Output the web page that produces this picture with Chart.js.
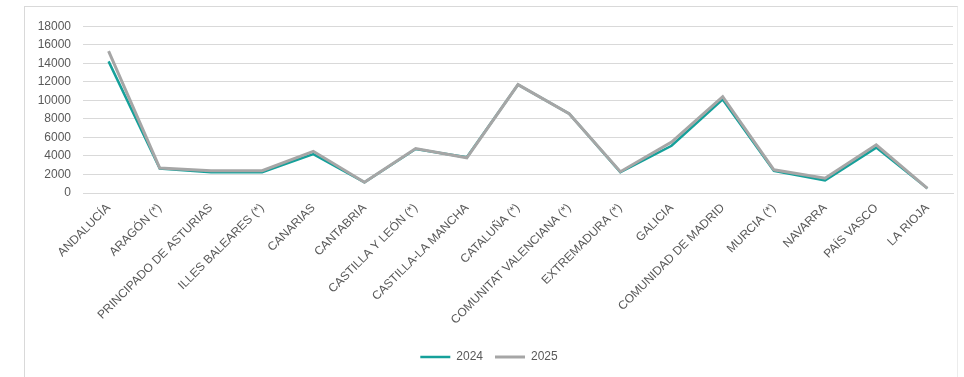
<!DOCTYPE html>
<html>
<head>
<meta charset="utf-8">
<script src="https://cdn.jsdelivr.net/npm/chart.js@4"></script>
<style>
  html, body { margin: 0; padding: 0; background: #fff; }
  .box {
    position: absolute; left: 24px; top: 6px;
    width: 932px; height: 372px;
    border-left: 1px solid #d9d9d9; border-top: 1px solid #d9d9d9; border-right: 1px solid #ececec;
  }
  canvas { display: block; }
</style>
</head>
<body>
<div class="box"><canvas id="lineChart" width="932" height="372"></canvas></div>
<script>
const regions = [
    'ANDALUCÍA', 'ARAGÓN (*)', 'PRINCIPADO DE ASTURIAS', 'ILLES BALEARES (*)', 'CANARIAS',
    'CANTABRIA', 'CASTILLA Y LEÓN (*)', 'CASTILLA-LA MANCHA', 'CATALUÑA (*)',
    'COMUNITAT VALENCIANA (*)', 'EXTREMADURA (*)', 'GALICIA', 'COMUNIDAD DE MADRID',
    'MURCIA (*)', 'NAVARRA', 'PAÍS VASCO', 'LA RIOJA'
];
const values2024 = [14200, 2650, 2250, 2250, 4200, 1150, 4750, 3850, 11700, 8550, 2250, 5100, 10100, 2400, 1350, 4900, 500];
const values2025 = [15300, 2700, 2400, 2400, 4500, 1150, 4800, 3800, 11700, 8550, 2300, 5500, 10400, 2500, 1600, 5200, 500];
const yTicks = [0, 2000, 4000, 6000, 8000, 10000, 12000, 14000, 16000, 18000];

const labelColor = '#595959';

new Chart(document.getElementById('lineChart'), {
    type: 'line',
    data: {
        labels: regions,
        datasets: [{
            label: '2024',
            data: values2024,
            borderColor: '#15a09a',
            backgroundColor: '#15a09a',
            borderWidth: 2.5,
            pointRadius: 0,
            tension: 0,
            order: 1
        }, {
            label: '2025',
            data: values2025,
            borderColor: '#a6a6a6',
            backgroundColor: '#a6a6a6',
            borderWidth: 3,
            pointRadius: 0,
            tension: 0,
            order: 0
        }]
    },
    options: {
        responsive: false,
        animation: false,
        layout: { padding: { left: 0, right: 4, top: 7, bottom: 6 } },
        scales: {
            x: {
                offset: true,
                grid: { display: false },
                border: { color: '#d9d9d9' },
                ticks: {
                    color: labelColor,
                    font: { family: 'Liberation Sans', size: 12 },
                    maxRotation: 45,
                    minRotation: 45,
                    autoSkip: false,
                    padding: 0
                },
                afterFit: axis => { axis.height = 146; }
            },
            y: {
                min: 0,
                max: 18000,
                afterBuildTicks: axis => { axis.ticks = yTicks.map(v => ({ value: v })); },
                grid: { color: '#d9d9d9', drawTicks: false },
                border: { display: false },
                ticks: {
                    color: labelColor,
                    font: { family: 'Liberation Sans', size: 12 },
                    padding: 12,
                    callback: v => String(v)
                },
                afterFit: axis => { axis.width = 58; }
            }
        },
        plugins: {
            tooltip: { enabled: false },
            legend: {
                position: 'bottom',
                labels: {
                    color: labelColor,
                    font: { family: 'Liberation Sans', size: 12 },
                    usePointStyle: true,
                    pointStyle: 'line',
                    pointStyleWidth: 30,
                    boxWidth: 30,
                    padding: 12,
                    sort: (a, b) => a.datasetIndex - b.datasetIndex
                }
            }
        }
    }
});
</script>
</body>
</html>
